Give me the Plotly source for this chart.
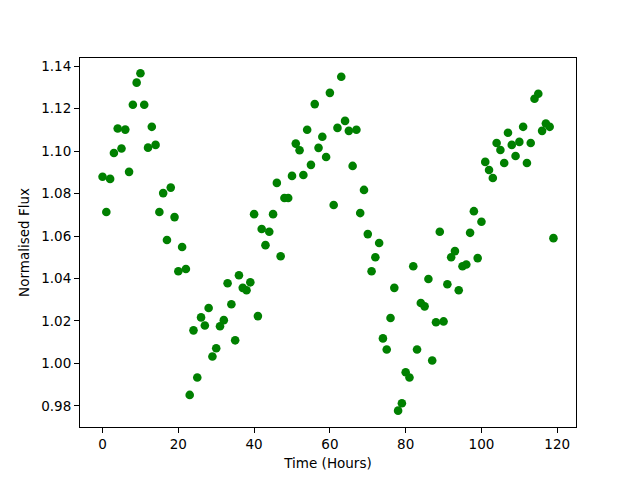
import plotly.graph_objects as go

time_hours = list(range(120))
flux = [
    1.0879, 1.0713, 1.0869, 1.0991, 1.1106, 1.1012, 1.1101, 1.0902, 1.1218, 1.1322,
    1.1366, 1.1218, 1.1016, 1.1114, 1.1029, 1.0713, 1.0802, 1.0581, 1.0828, 1.0689,
    1.0434, 1.0548, 1.0445, 0.9852, 1.0156, 0.9934, 1.0217, 1.0179, 1.0261, 1.0033,
    1.0072, 1.0175, 1.0204, 1.0378, 1.0279, 1.0109, 1.0415, 1.0356, 1.0345, 1.0382,
    1.0703, 1.0223, 1.0633, 1.0557, 1.0620, 1.0703, 1.0850, 1.0505, 1.0779, 1.0779,
    1.0883, 1.1035, 1.1004, 1.0887, 1.1100, 1.0935, 1.1221, 1.1015, 1.1067, 1.0972,
    1.1274, 1.0746, 1.1109, 1.1350, 1.1142, 1.1095, 1.0930, 1.1100, 1.0708, 1.0817,
    1.0609, 1.0434, 1.0500, 1.0567, 1.0118, 1.0066, 1.0214, 1.0356, 0.9778, 0.9813,
    0.9959, 0.9934, 1.0458, 1.0066, 1.0285, 1.0269, 1.0398, 1.0014, 1.0194, 1.0620,
    1.0198, 1.0373, 1.0500, 1.0529, 1.0345, 1.0458, 1.0466, 1.0615, 1.0717, 1.0496,
    1.0667, 1.0949, 1.0911, 1.0873, 1.1038, 1.1005, 1.0944, 1.1086, 1.1029, 1.0977,
    1.1043, 1.1114, 1.0944, 1.1038, 1.1246, 1.1270, 1.1095, 1.1130, 1.1114, 1.0590,
]

x_ticks = [0, 20, 40, 60, 80, 100, 120]
y_ticks = [0.98, 1.00, 1.02, 1.04, 1.06, 1.08, 1.10, 1.12, 1.14]

fig = go.Figure()
fig.add_trace(go.Scatter(
    x=time_hours, y=flux, mode="markers",
    marker=dict(color="#008000", size=8.6, line=dict(width=0)),
    showlegend=False,
))

font = dict(family="DejaVu Sans", size=13.5, color="black")
fig.update_layout(
    width=640, height=480,
    margin=dict(l=72, r=72, t=50, b=61, pad=0),
    paper_bgcolor="white", plot_bgcolor="white",
    font=font,
)
fig.update_xaxes(
    range=[-5.95, 124.95], tickvals=x_ticks, ticktext=[str(v) for v in x_ticks],
    showline=True, linecolor="black", linewidth=1.1, mirror=True,
    ticks="outside", ticklen=5, tickwidth=1.1, tickcolor="black",
    showgrid=False, zeroline=False, automargin=False,
    title=dict(text="Time (Hours)", standoff=7, font=font),
)
fig.update_yaxes(
    range=[0.9701, 1.1438], tickvals=y_ticks, ticktext=[f"{v:.2f}" for v in y_ticks],
    showline=True, linecolor="black", linewidth=1.1, mirror=True,
    ticks="outside", ticklen=5, tickwidth=1.1, tickcolor="black",
    showgrid=False, zeroline=False, automargin=False,
    title=dict(text="Normalised Flux", standoff=8, font=font),
)
fig.write_html("out.html")
